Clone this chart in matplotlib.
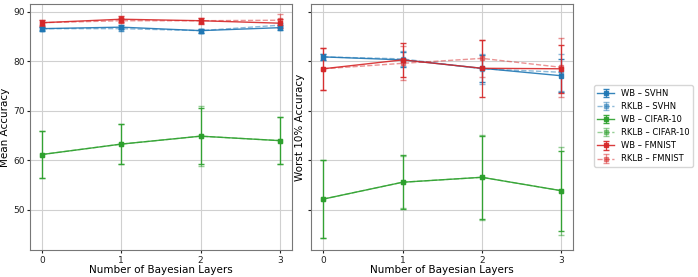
import matplotlib
matplotlib.use("Agg")
import matplotlib.pyplot as plt
import numpy as np

layers = [0, 1, 2, 3]

# Mean accuracy (left panel)
mean_wb_svhn = [86.6, 86.9, 86.2, 86.8]
mean_wb_svhn_err = [0.4, 0.4, 0.4, 0.5]
mean_rklb_svhn = [86.6, 86.6, 86.2, 87.3]
mean_rklb_svhn_err = [0.3, 0.4, 0.4, 0.4]
mean_wb_cifar = [61.2, 63.3, 64.9, 64.0]
mean_wb_cifar_err = [4.7, 4.0, 5.6, 4.8]
mean_rklb_cifar = [61.2, 63.3, 64.9, 64.0]
mean_rklb_cifar_err = [4.7, 4.1, 6.0, 4.8]
mean_wb_fmnist = [87.8, 88.5, 88.2, 87.7]
mean_wb_fmnist_err = [0.6, 0.6, 0.6, 0.9]
mean_rklb_fmnist = [87.8, 88.2, 88.2, 88.3]
mean_rklb_fmnist_err = [0.5, 0.5, 0.5, 1.2]

# Worst 10% accuracy (right panel)
worst_wb_svhn = [80.9, 80.3, 78.6, 77.1]
worst_wb_svhn_err = [0.6, 1.5, 2.7, 3.3]
worst_rklb_svhn = [80.9, 80.5, 78.5, 77.8]
worst_rklb_svhn_err = [0.6, 1.5, 3.0, 3.7]
worst_wb_cifar = [52.2, 55.6, 56.6, 53.9]
worst_wb_cifar_err = [7.8, 5.4, 8.4, 8.1]
worst_rklb_cifar = [52.2, 55.6, 56.6, 53.9]
worst_rklb_cifar_err = [7.8, 5.2, 8.6, 8.9]
worst_wb_fmnist = [78.5, 80.3, 78.6, 78.5]
worst_wb_fmnist_err = [4.2, 3.4, 5.8, 4.9]
worst_rklb_fmnist = [78.5, 79.6, 80.6, 78.8]
worst_rklb_fmnist_err = [4.2, 3.4, 3.8, 5.9]

labels = ["WB – SVHN", "RKLB – SVHN", "WB – CIFAR-10", "RKLB – CIFAR-10",
          "WB – FMNIST", "RKLB – FMNIST"]
colors = ["#1f77b4", "#1f77b4", "#2ca02c", "#2ca02c", "#d62728", "#d62728"]
styles = ["-", "--", "-", "--", "-", "--"]
alphas = [0.9, 0.5, 0.9, 0.5, 0.9, 0.5]

mean_series = [(mean_wb_svhn, mean_wb_svhn_err), (mean_rklb_svhn, mean_rklb_svhn_err),
               (mean_wb_cifar, mean_wb_cifar_err), (mean_rklb_cifar, mean_rklb_cifar_err),
               (mean_wb_fmnist, mean_wb_fmnist_err), (mean_rklb_fmnist, mean_rklb_fmnist_err)]
worst_series = [(worst_wb_svhn, worst_wb_svhn_err), (worst_rklb_svhn, worst_rklb_svhn_err),
                (worst_wb_cifar, worst_wb_cifar_err), (worst_rklb_cifar, worst_rklb_cifar_err),
                (worst_wb_fmnist, worst_wb_fmnist_err), (worst_rklb_fmnist, worst_rklb_fmnist_err)]

fig = plt.figure(figsize=(6.98, 2.77), dpi=100)
ax1 = fig.add_axes([0.043, 0.097, 0.375, 0.889])
ax2 = fig.add_axes([0.446, 0.097, 0.375, 0.889], sharey=ax1)

for ax, series, ylabel in [(ax1, mean_series, "Mean Accuracy"),
                           (ax2, worst_series, "Worst 10% Accuracy")]:
    for (vals, errs), lab, c, ls, a in zip(series, labels, colors, styles, alphas):
        ax.errorbar(layers, vals, yerr=errs, label=lab, color=c, linestyle=ls,
                    marker="s", markersize=3, capsize=2.5, linewidth=1.0,
                    elinewidth=0.9, alpha=a)
    ax.grid(True, color="#d0d0d0", linewidth=0.8)
    ax.set_axisbelow(True)
    ax.set_xticks(layers)
    ax.set_xlabel("Number of Bayesian Layers", fontsize=7.5, labelpad=0.5)
    ax.set_ylabel(ylabel, fontsize=7.5, labelpad=2)
    ax.tick_params(labelsize=6.5, colors="#222222", length=2.5, pad=1.5)
    for s in ax.spines.values():
        s.set_color("#777777")

ax1.set_ylim(41.9, 91.6)
ax1.set_yticks([50, 60, 70, 80, 90])
ax1.set_xlim(-0.15, 3.15)
ax2.set_xlim(-0.15, 3.15)
plt.setp(ax2.get_yticklabels(), visible=False)

handles, labs = ax1.get_legend_handles_labels()
fig.legend(handles, labs, loc="center left", bbox_to_anchor=(0.845, 0.545),
           fontsize=6, frameon=True, framealpha=0.8, edgecolor="#cccccc")

fig.savefig("out.png", dpi=100)
